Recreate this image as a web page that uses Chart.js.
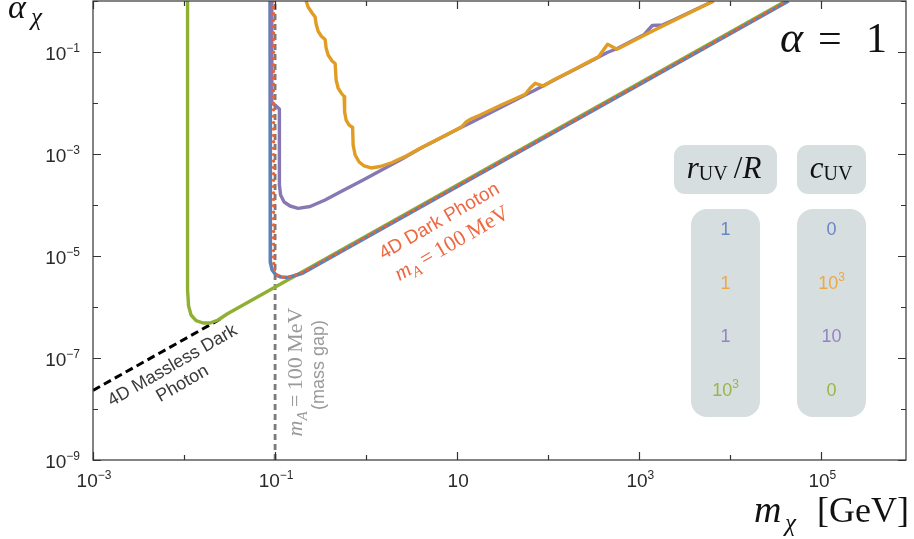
<!DOCTYPE html>
<html>
<head>
<meta charset="utf-8">
<script src="https://cdn.jsdelivr.net/npm/chart.js@4.4.0/dist/chart.umd.min.js"></script>
<style>
  html, body { margin: 0; padding: 0; background: #fff; }
  canvas { display: block; }
</style>
</head>
<body>
<canvas id="reachChart" width="914" height="539"></canvas>
<script>
// masses in GeV, couplings alpha_chi

// 4D dark photon with m_A = 100 MeV
const darkPhotonMass = [0.0963, 0.0963, 0.0988, 0.1079, 0.1256, 0.1538, 0.2, 42170]
const darkPhotonAlpha = [1, 7.62e-6, 5.08e-6, 4.05e-6, 3.79e-6, 3.96e-6, 4.74e-6, 1]

// r_UV/R = 1, c_UV = 0
const blueMass = [0.0881, 0.0881, 0.0892, 0.0927, 0.1026, 0.1164, 0.1389, 0.2, 43650]
const blueAlpha = [1, 1.64e-5, 7.62e-6, 5.32e-6, 4.24e-6, 3.88e-6, 3.79e-6, 4.58e-6, 1]

// r_UV/R = 1, c_UV = 10^3
const orangeMass = [0.2192, 0.2305, 0.2550, 0.2752, 0.2822, 0.2969, 0.3202, 0.3542, 0.3634, 0.3824,
  0.4230, 0.4563, 0.4681, 0.4924, 0.5312, 0.5731, 0.5804, 0.6029, 0.6504, 0.7105,
  0.7197, 0.7571, 0.8377, 0.9507, 1.135, 1.425, 1.931, 2.822, 3.921, 6.505,
  11.27, 12.56, 13.90, 17.89, 29.69, 55.88, 63.42, 71.97, 88.81, 114.3,
  198.0, 289.4, 357.0, 448.2, 568.8, 1436, 6553]
const orangeAlpha = [1, 0.7627, 0.5816, 0.4856, 0.3540, 0.2580, 0.2060, 0.1758, 0.1198, 0.0873,
  0.0666, 0.0595, 0.02825, 0.01968, 0.01571, 0.01341, 6.66e-3, 4.64e-3, 3.70e-3, 3.31e-3,
  1.501e-3, 9.56e-4, 6.97e-4, 5.82e-4, 5.32e-4, 5.69e-4, 6.81e-4, 9.35e-4, 1.293e-3, 2.06e-3,
  3.43e-3, 4.24e-3, 4.79e-3, 5.82e-3, 8.93e-3, 0.01481, 0.01968, 0.02433, 0.02154, 0.02825,
  0.0464, 0.0666, 0.0809, 0.1416, 0.1129, 0.2640, 1]

// r_UV/R = 1, c_UV = 10
const purpleMass = [0.0920, 0.0920, 0.1026, 0.1115, 0.1115, 0.1149, 0.1256, 0.1462, 0.1790, 0.2425,
  0.3542, 0.5179, 0.9270, 1.701, 2.364, 3.921, 11.27, 13.90, 55.88, 71.97,
  113.4, 289.4, 444.9, 573.2, 1134, 1390, 1789, 2305, 6553]
const purpleAlpha = [1, 0.01, 8.73e-3, 7.63e-3, 2.47e-4, 1.57e-4, 1.145e-4, 9.56e-5, 8.61e-5, 9.35e-5,
  1.253e-4, 1.80e-4, 3.09e-4, 5.56e-4, 7.63e-4, 1.282e-3, 3.38e-3, 4.05e-3, 0.01435, 0.01798,
  0.02762, 0.0651, 0.0977, 0.1171, 0.2204, 0.3309, 0.3385, 0.4147, 1]

// r_UV/R = 10^3, c_UV = 0
const greenMass = [0.01093, 0.01093, 0.01121, 0.01194, 0.01355, 0.01617, 0.01931, 0.02363, 0.03, 40700]
const greenAlpha = [1, 2.15e-6, 1.05e-6, 6.97e-7, 5.43e-7, 4.86e-7, 4.86e-7, 5.56e-7, 7.36e-7, 1]

// 4D massless dark photon
const masslessMass = [0.001, 0.026]
const masslessAlpha = [2.32e-8, 6.02e-7]

// mass gap at m_A = 100 MeV
const gapMass = [0.1, 0.1]
const gapAlpha = [1e-9, 1]

// axes
const xMin = 1e-3, xMax = 8.5e5
const yMin = 1e-9, yMax = 1
const xTicks = [1e-3, 1e-2, 1e-1, 1, 10, 100, 1e3, 1e4, 1e5]
const xTickLabels = [['10', '-3'], null, ['10', '-1'], null, ['10', ''], null, ['10', '3'], null, ['10', '5']]
const yTicks = [1, 1e-1, 1e-2, 1e-3, 1e-4, 1e-5, 1e-6, 1e-7, 1e-8, 1e-9]
const yTickLabels = [null, ['10', '-1'], null, ['10', '-3'], null, ['10', '-5'], null, ['10', '-7'], null, ['10', '-9']]

// legend table
const legendColors = ['#6787c4', '#eba845', '#9583c4', '#98b748']
const legendRatio = [['1', ''], ['1', ''], ['1', ''], ['10', '3']]
const legendCuv = [['0', ''], ['10', '3'], ['10', ''], ['0', '']]

const SANS = '"Liberation Sans", Arial, sans-serif'
const SERIF = '"Liberation Serif", "Times New Roman", serif'

function toPoints(ms, as) {
  return ms.map((m, i) => ({ x: m, y: as[i] }))
}

// draw a row of differently styled text pieces: [text, font, baseline shift]
function drawRuns(ctx, runs, x, y, color, align, angle) {
  ctx.save()
  ctx.translate(x, y)
  if (angle) ctx.rotate(angle)
  ctx.fillStyle = color
  ctx.textBaseline = 'alphabetic'
  ctx.textAlign = 'left'
  const widths = runs.map(r => { ctx.font = r[1]; return ctx.measureText(r[0]).width })
  const total = widths.reduce((s, w) => s + w, 0)
  let cx = align === 'right' ? -total : align === 'left' ? 0 : -total / 2
  runs.forEach((r, i) => {
    ctx.font = r[1]
    ctx.fillText(r[0], cx, r[2] || 0)
    cx += widths[i]
  })
  ctx.restore()
}

function powerRuns(lbl, size, supSize) {
  const runs = [[lbl[0], size + 'px ' + SANS, 0]]
  if (lbl[1]) runs.push([lbl[1].replace('-', '\u2212'), supSize + 'px ' + SANS, -Math.round(size * 0.42)])
  return runs
}

function massRuns(size) {
  return [
    ['m', 'italic ' + size + 'px ' + SERIF, 0],
    ['A', 'italic ' + Math.round(size * 0.68) + 'px ' + SERIF, Math.round(size * 0.22)],
    ['\u2009=\u2009100\u2009MeV', size + 'px ' + SERIF, 0]
  ]
}

function roundBox(ctx, x, y, w, h, r) {
  ctx.beginPath()
  ctx.moveTo(x + r, y)
  ctx.arcTo(x + w, y, x + w, y + h, r)
  ctx.arcTo(x + w, y + h, x, y + h, r)
  ctx.arcTo(x, y + h, x, y, r)
  ctx.arcTo(x, y, x + w, y, r)
  ctx.closePath()
  ctx.fill()
}

const legendTable = {
  id: 'legendTable',
  beforeDatasetsDraw(chart) {
    const ctx = chart.ctx
    ctx.save()
    ctx.fillStyle = '#d6dee0'
    roundBox(ctx, 674, 145, 103, 49, 11)
    roundBox(ctx, 797, 145, 69, 49, 11)
    roundBox(ctx, 691, 209, 69, 208, 16)
    roundBox(ctx, 797, 209, 69, 208, 16)
    ctx.restore()

    drawRuns(ctx, [
      ['r', 'italic 31px ' + SERIF, 0],
      ['UV', '20px ' + SERIF, 2],
      ['\u2009/', '31px ' + SERIF, 0],
      ['R', 'italic 31px ' + SERIF, 0]
    ], 724, 178, '#111', 'center')
    drawRuns(ctx, [
      ['c', 'italic 31px ' + SERIF, 0],
      ['UV', '20px ' + SERIF, 2]
    ], 831, 178, '#111', 'center')

    const rows = [235, 289, 342, 396]
    rows.forEach((yb, i) => {
      drawRuns(ctx, powerRuns(legendRatio[i], 18, 12), 725.5, yb, legendColors[i], 'center')
      drawRuns(ctx, powerRuns(legendCuv[i], 18, 12), 831.5, yb, legendColors[i], 'center')
    })
  }
}

const frameAndText = {
  id: 'frameAndText',
  afterDraw(chart) {
    const { ctx, chartArea: a, scales: { x, y } } = chart
    ctx.save()
    ctx.strokeStyle = '#333'
    ctx.lineWidth = 1.2
    ctx.strokeRect(a.left, a.top, a.right - a.left, a.bottom - a.top)

    // inward ticks on all four sides
    ctx.beginPath()
    xTicks.forEach((v, i) => {
      const px = Math.round(x.getPixelForValue(v)) + 0.5
      const len = xTickLabels[i] ? 8 : 5
      ctx.moveTo(px, a.bottom); ctx.lineTo(px, a.bottom - len)
      ctx.moveTo(px, a.top); ctx.lineTo(px, a.top + len)
    })
    yTicks.forEach((v, i) => {
      const py = Math.round(y.getPixelForValue(v)) + 0.5
      const len = yTickLabels[i] ? 8 : 5
      ctx.moveTo(a.left, py); ctx.lineTo(a.left + len, py)
      ctx.moveTo(a.right, py); ctx.lineTo(a.right - len, py)
    })
    ctx.stroke()
    ctx.restore()

    // tick labels
    xTicks.forEach((v, i) => {
      if (!xTickLabels[i]) return
      drawRuns(ctx, powerRuns(xTickLabels[i], 19, 12), x.getPixelForValue(v) + 1, a.bottom + 27, '#2a2a2a', 'center')
    })
    yTicks.forEach((v, i) => {
      if (!yTickLabels[i]) return
      drawRuns(ctx, powerRuns(yTickLabels[i], 19, 12), a.left - 13, y.getPixelForValue(v) + 7.5, '#2a2a2a', 'right')
    })

    // axis titles
    drawRuns(ctx, [['\u03b1', 'italic 34px ' + SERIF, 0]], 8, 18, '#111', 'left')
    drawRuns(ctx, [['\u03c7', 'italic 25px ' + SERIF, 0]], 31, 25, '#111', 'left')
    drawRuns(ctx, [['m', 'italic 38px ' + SERIF, 0]], 754, 522, '#111', 'left')
    drawRuns(ctx, [['\u03c7', 'italic 25px ' + SERIF, 0]], 785, 531, '#111', 'left')
    drawRuns(ctx, [['[GeV]', '36px ' + SERIF, 0]], 909, 522, '#111', 'right')

    // coupling
    drawRuns(ctx, [['\u03b1', 'italic 44px ' + SERIF, 0]], 780, 52, '#111', 'left')
    drawRuns(ctx, [['=', '42px ' + SERIF, 0]], 818, 52, '#111', 'left')
    drawRuns(ctx, [['1', '42px ' + SERIF, 0]], 866, 52, '#111', 'left')

    // curve annotations
    const tilt = -30 * Math.PI / 180
    drawRuns(ctx, [['4D Massless Dark', '18px ' + SANS, 0]], 175, 370, '#3a3a3a', 'center', tilt)
    drawRuns(ctx, [['Photon', '18px ' + SANS, 0]], 185, 388, '#3a3a3a', 'center', tilt)

    drawRuns(ctx, [['4D Dark Photon', '19px ' + SANS, 0]], 442, 226, '#ee6842', 'center', tilt)
    drawRuns(ctx, massRuns(22), 455, 249, '#ee6842', 'center', tilt)

    const up = -Math.PI / 2
    drawRuns(ctx, massRuns(22), 302, 372, '#9a9a9a', 'center', up)
    drawRuns(ctx, [['(mass gap)', '18px ' + SANS, 0]], 324, 365, '#9a9a9a', 'center', up)
  }
}

const ctx = document.getElementById('reachChart').getContext('2d')
new Chart(ctx, {
  type: 'line',
  data: {
    datasets: [
      { data: toPoints(darkPhotonMass, darkPhotonAlpha), borderColor: '#eb6235', borderWidth: 3.4, borderDash: [0, 6.4], borderCapStyle: 'round' },
      { data: toPoints(orangeMass, orangeAlpha), borderColor: '#e19c24', borderWidth: 3.4 },
      { data: toPoints(purpleMass, purpleAlpha), borderColor: '#8778b3', borderWidth: 3.4 },
      { data: toPoints(blueMass, blueAlpha), borderColor: '#5e81b5', borderWidth: 3.6 },
      { data: toPoints(greenMass, greenAlpha), borderColor: '#8fb032', borderWidth: 3.4 },
      { data: toPoints(masslessMass, masslessAlpha), borderColor: '#000', borderWidth: 3, borderDash: [8, 4.5] },
      { data: toPoints(gapMass, gapAlpha), borderColor: '#7a7a7a', borderWidth: 2.8, borderDash: [6, 4] }
    ]
  },
  options: {
    responsive: false,
    animation: false,
    devicePixelRatio: 1,
    layout: { padding: { left: 93, right: 8, top: 1, bottom: 79 } },
    scales: {
      x: { type: 'logarithmic', display: false, min: xMin, max: xMax },
      y: { type: 'logarithmic', display: false, min: yMin, max: yMax }
    },
    elements: {
      point: { radius: 0 },
      line: { tension: 0, borderJoinStyle: 'round', fill: false }
    },
    plugins: { legend: { display: false }, tooltip: { enabled: false } }
  },
  plugins: [legendTable, frameAndText]
})
</script>
</body>
</html>
